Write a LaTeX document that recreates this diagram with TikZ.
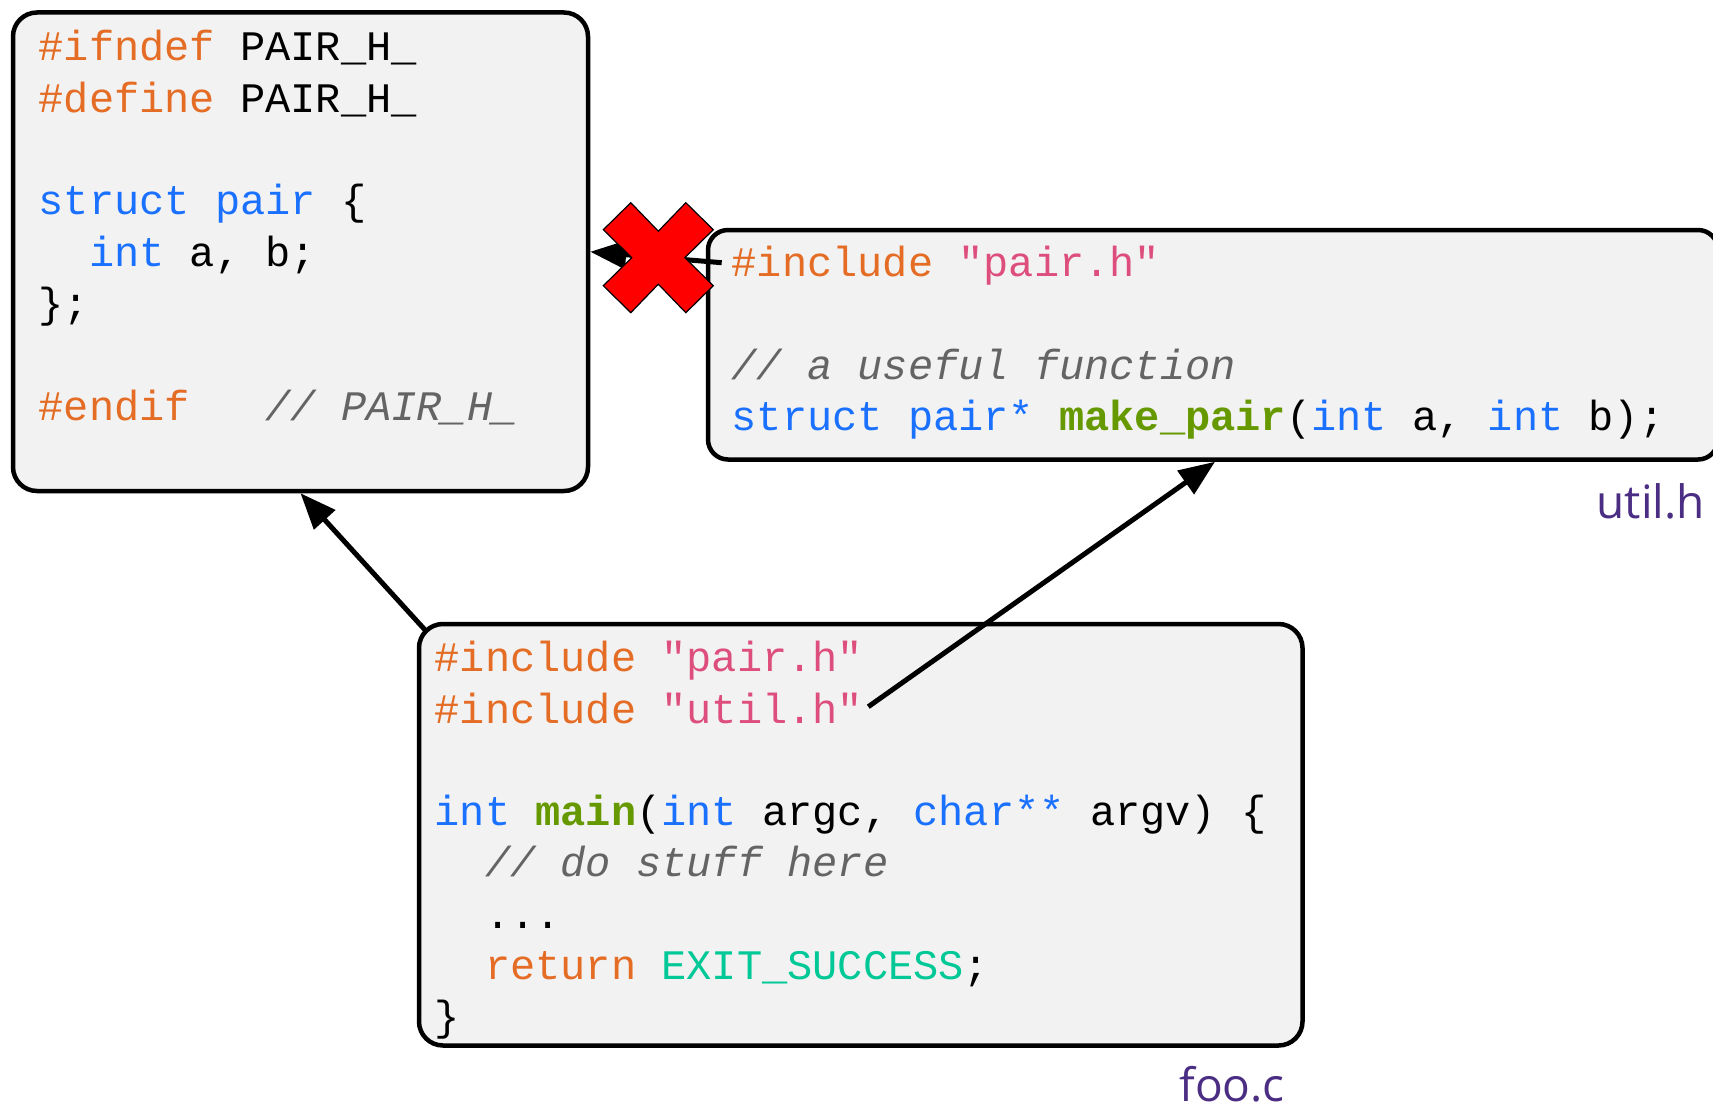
\documentclass[tikz,border=0pt]{standalone}
\usepackage{fontspec}
\usetikzlibrary{arrows.meta,calc}

\newfontfamily\codefont{Liberation Mono}
\newfontfamily\labelfont{Open Sans}

\definecolor{boxgray}{HTML}{F2F2F2}
\definecolor{cpre}{RGB}{228,108,36}
\definecolor{ckey}{RGB}{26,112,255}
\definecolor{cstr}{RGB}{222,78,125}
\definecolor{cfun}{RGB}{102,153,0}
\definecolor{ccom}{RGB}{100,100,100}
\definecolor{cconst}{RGB}{0,200,150}
\definecolor{uwpurple}{HTML}{4B2E83}

% syntax highlighting helpers
\newcommand\codepre[1]{\textcolor{cpre}{#1}}
\newcommand\codekw[1]{\textcolor{ckey}{#1}}
\newcommand\codestr[1]{\textcolor{cstr}{#1}}
\newcommand\codefn[1]{\textcolor{cfun}{\bfseries #1}}
\newcommand\codecom[1]{\textcolor{ccom}{\itshape #1}}
\newcommand\codeconst[1]{\textcolor{cconst}{#1}}
\newcommand\codeline[1]{\hbox{#1}}

\tikzset{
  srcbox/.style={draw=black, line width=4.5pt, fill=boxgray,
    rounded corners=24pt, inner sep=0pt, anchor=center},
  code/.style={anchor=base west, inner sep=0pt, text=black,
    font=\codefont\fontsize{42pt}{51.3pt}\selectfont},
  filelabel/.style={anchor=base east, inner sep=0pt, text=uwpurple,
    font=\labelfont\fontsize{46pt}{55pt}\selectfont},
  incl/.style={-{Triangle[length=36pt,width=28pt]}, line width=5pt},
  crossmark/.style={fill=red, draw=black, line width=1.2pt, line join=miter},
}

\begin{document}
\begin{tikzpicture}[x=1pt,y=-1pt]
\useasboundingbox (0,0) rectangle (1713,1108);

% source file boxes
\node[srcbox, minimum width=575pt, minimum height=478.5pt] (pairbox) at (300.5,251.75) {};
\node[srcbox, rounded corners=20pt, minimum width=1010pt, minimum height=229.5pt] (utilbox) at (1213,344.75) {};
\node[srcbox, minimum width=883.5pt, minimum height=421.5pt] (foobox) at (860.75,834.75) {};

% pair.h
\node[code] (paircode) at (38.5,61) {\vtop{%
\codeline{\codepre{\#ifndef} PAIR\_H\_}
\codeline{\codepre{\#define} PAIR\_H\_}
\codeline{}
\codeline{\codekw{struct pair} \{}
\codeline{\ \ \codekw{int} a, b;}
\codeline{\};}
\codeline{}
\codeline{\codepre{\#endif}\ \ \ \codecom{// PAIR\_H\_}}}};

% util.h
\node[code] (utilcode) at (731.5,276.7) {\vtop{%
\codeline{\codepre{\#include} \codestr{"pair.h"}}
\codeline{}
\codeline{\codecom{// a useful function}}
\codeline{\codekw{struct pair*} \codefn{make\_pair}(\codekw{int} a, \codekw{int} b);}}};

% foo.c
\node[code] (foocode) at (434.5,671.7) {\vtop{%
\codeline{\codepre{\#include} \codestr{"pair.h"}}
\codeline{\codepre{\#include} \codestr{"util.h"}}
\codeline{}
\codeline{\codekw{int} \codefn{main}(\codekw{int} argc, \codekw{char**} argv) \{}
\codeline{\ \ \codecom{// do stuff here}}
\codeline{\ \ ...}
\codeline{\ \ \codepre{return} \codeconst{EXIT\_SUCCESS};}
\codeline{\}}}};

% file names
\node[filelabel] (utillabel) at (1705,518) {util.h};
\node[filelabel] (foolabel) at (1285,1101.5) {foo.c};

% include relations
\coordinate (inclA) at ($(utilcode.base west)+(-9.8,-14)$);
\coordinate (inclB) at ($(foobox.north west)+(9.25,9.25)$);
\coordinate (inclC) at ($(foocode.base west)+(433.8,35)$);
\draw[incl] (inclA) -- (pairbox.east);
\draw[incl] (inclB) -- (pairbox.south);
\draw[incl] (inclC) -- ([xshift=2pt]utilbox.south);

% the rejected include
\coordinate (xmark) at (658.3,257.7);
\path[crossmark, shift={(xmark)}]
  (-55,-28) -- (-27.5,-55) -- (0,-26.5) -- (27.5,-55) -- (55,-28)
  -- (26.5,0) -- (55,28) -- (27.5,55) -- (0,26.5) -- (-27.5,55)
  -- (-55,28) -- (-26.5,0) -- cycle;
\end{tikzpicture}
\end{document}
